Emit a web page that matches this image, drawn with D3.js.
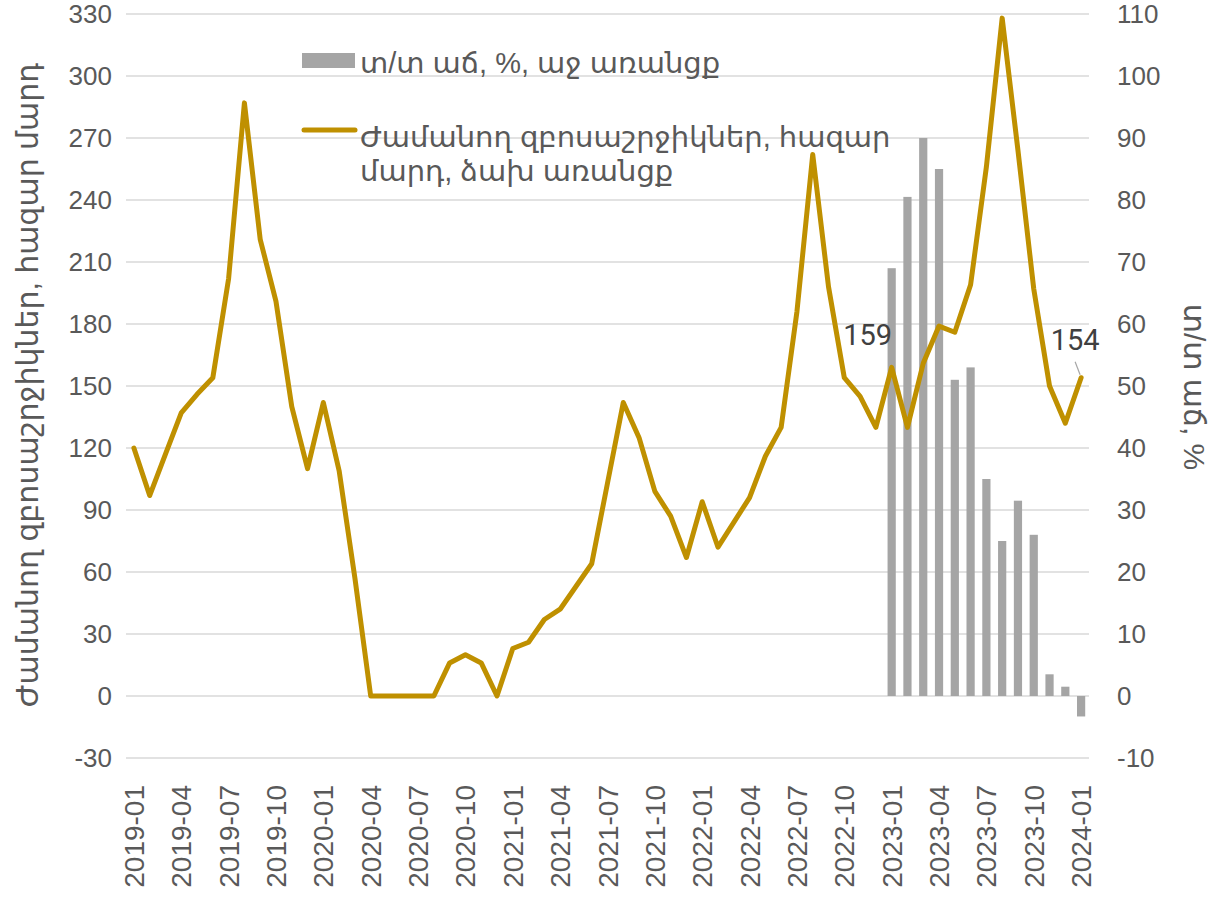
<!DOCTYPE html>
<html lang="hy">
<head>
<meta charset="UTF-8">
<title>Ժամանող զբոսաշրջիկներ</title>
<script src="https://cdn.jsdelivr.net/npm/d3@7"></script>
<style>
  body { margin: 0; background: #fff; }
  svg text { font-family: "Liberation Sans", Arial, "DejaVu Sans", sans-serif; }
</style>
</head>
<body>
<div id="chart"></div>
<script>
// months 2019-01 .. 2024-01
const months = [];
for (let y = 2019; y <= 2024; y++) {
  for (let m = 1; m <= 12; m++) {
    if (y === 2024 && m > 1) break;
    months.push(y + "-" + String(m).padStart(2, "0"));
  }
}

// arriving tourists, thousand people (left axis)
const arrivals = [
  120, 97, 117, 137, 146, 154, 202, 287, 221, 191, 140, 110,
  142, 109, 57, 0, 0, 0, 0, 0, 16, 20, 16, 0,
  23, 26, 37, 42, 53, 64, 103, 142, 125, 99, 87, 67,
  94, 72, 84, 96, 116, 130, 186, 262, 198, 154, 145, 130,
  159, 130, 161, 179, 176, 199, 256, 328, 264, 197, 150, 132,
  154
];

// y/y growth, % (right axis), only from 2023-01
const growth = [
  null, null, null, null, null, null, null, null, null, null, null, null,
  null, null, null, null, null, null, null, null, null, null, null, null,
  null, null, null, null, null, null, null, null, null, null, null, null,
  null, null, null, null, null, null, null, null, null, null, null, null,
  69, 80.5, 90, 85, 51, 53, 35, 25, 31.5, 26, 3.5, 1.5,
  -3.3
];

const leftTicks = d3.range(-30, 331, 30);
const rightTicks = d3.range(-10, 111, 10);
const labelledMonths = months.filter((d, i) => i % 3 === 0);
const pointLabels = [{ month: "2023-01", text: "159" }, { month: "2024-01", text: "154" }];

const lineColor = "#BF9000";
const barColor = "#A5A5A5";
const gridColor = "#D9D9D9";
const textColor = "#595959";

const width = 1214, height = 900;
const plot = { left: 126, right: 1089, top: 14, bottom: 758 };

const svg = d3.select("#chart").append("svg")
  .attr("width", width)
  .attr("height", height);

const x = d3.scaleBand().domain(months).range([plot.left, plot.right]).paddingInner(0.48).paddingOuter(0.24);
const xc = d => x(d) + x.bandwidth() / 2;
const yL = d3.scaleLinear().domain([-30, 330]).range([plot.bottom, plot.top]);
const yR = d3.scaleLinear().domain([-10, 110]).range([plot.bottom, plot.top]);
const plain = d => String(d); // hyphen minus like the original

// gridlines
svg.append("g").selectAll("line")
  .data(leftTicks)
  .join("line")
  .attr("x1", plot.left).attr("x2", plot.right)
  .attr("y1", d => yL(d)).attr("y2", d => yL(d))
  .attr("stroke", gridColor)
  .attr("stroke-width", 1.5);

// left axis
const axL = svg.append("g")
  .attr("transform", `translate(${plot.left},0)`)
  .call(d3.axisLeft(yL).tickValues(leftTicks).tickFormat(plain).tickSize(0).tickPadding(14));
axL.select(".domain").remove();
axL.selectAll("text").attr("font-size", 26).attr("fill", textColor)
  .style("font-family", "'Liberation Sans', Arial, sans-serif");

// right axis
const axR = svg.append("g")
  .attr("transform", `translate(${plot.right},0)`)
  .call(d3.axisRight(yR).tickValues(rightTicks).tickFormat(plain).tickSize(0).tickPadding(28));
axR.select(".domain").remove();
axR.selectAll("text").attr("font-size", 26).attr("fill", textColor)
  .style("font-family", "'Liberation Sans', Arial, sans-serif");

// x axis labels
svg.append("g").selectAll("text")
  .data(labelledMonths)
  .join("text")
  .attr("transform", d => `translate(${xc(d) + 10},785) rotate(-90)`)
  .attr("text-anchor", "end")
  .attr("font-size", 28)
  .attr("fill", textColor)
  .text(d => d);

// bars
svg.append("g").selectAll("rect")
  .data(months.map((m, i) => ({ m, v: growth[i] })).filter(d => d.v !== null))
  .join("rect")
  .attr("x", d => x(d.m))
  .attr("width", x.bandwidth())
  .attr("y", d => yR(Math.max(0, d.v)))
  .attr("height", d => Math.abs(yR(d.v) - yR(0)))
  .attr("fill", barColor);

// line
const line = d3.line()
  .x((d, i) => xc(months[i]))
  .y(d => yL(d));
svg.append("path")
  .datum(arrivals)
  .attr("d", line)
  .attr("fill", "none")
  .attr("stroke", lineColor)
  .attr("stroke-width", 5)
  .attr("stroke-linejoin", "round")
  .attr("stroke-linecap", "round");

// data labels
const lab = svg.append("g");
pointLabels.forEach((p, k) => {
  const v = arrivals[months.indexOf(p.month)];
  const px = xc(p.month);
  if (k === 0) {
    lab.append("text")
      .attr("x", px - 24).attr("y", yL(v) - 22)
      .attr("text-anchor", "middle")
      .attr("font-size", 29).attr("fill", "#404040")
      .style("font-family", "Roboto, sans-serif")
      .text(p.text);
  } else {
    lab.append("line")
      .attr("x1", px - 6).attr("y1", yL(v) - 16)
      .attr("x2", px - 1).attr("y2", yL(v) - 3)
      .attr("stroke", "#A6A6A6").attr("stroke-width", 1.2);
    lab.append("text")
      .attr("x", px - 6).attr("y", yL(v) - 28)
      .attr("text-anchor", "middle")
      .attr("font-size", 29).attr("fill", "#404040")
      .style("font-family", "Roboto, sans-serif")
      .text(p.text);
  }
});

// axis titles
svg.append("text")
  .attr("transform", `translate(38,385) rotate(-90)`)
  .attr("text-anchor", "middle")
  .attr("font-size", 30).attr("fill", textColor)
  .text("Ժամանող զբոսաշրջիկներ, հազար մարդ");

svg.append("text")
  .attr("transform", `translate(1184,387) rotate(90)`)
  .attr("text-anchor", "middle")
  .attr("font-size", 30).attr("fill", textColor)
  .text("տ/տ աճ, %");

// legend
const lg = svg.append("g");
lg.append("rect")
  .attr("x", 302).attr("y", 53).attr("width", 53).attr("height", 15)
  .attr("fill", barColor);
lg.append("text")
  .attr("x", 360).attr("y", 73)
  .attr("font-size", 29).attr("fill", textColor)
  .text("տ/տ աճ, %, աջ առանցք");
lg.append("line")
  .attr("x1", 304).attr("x2", 355).attr("y1", 130).attr("y2", 130)
  .attr("stroke", lineColor).attr("stroke-width", 5).attr("stroke-linecap", "round");
const lt = lg.append("text")
  .attr("x", 360).attr("y", 147)
  .attr("font-size", 29).attr("fill", textColor);
lt.append("tspan").attr("x", 360).text("Ժամանող զբոսաշրջիկներ, հազար");
lt.append("tspan").attr("x", 360).attr("dy", 34).text("մարդ, ձախ առանցք");
</script>
</body>
</html>
